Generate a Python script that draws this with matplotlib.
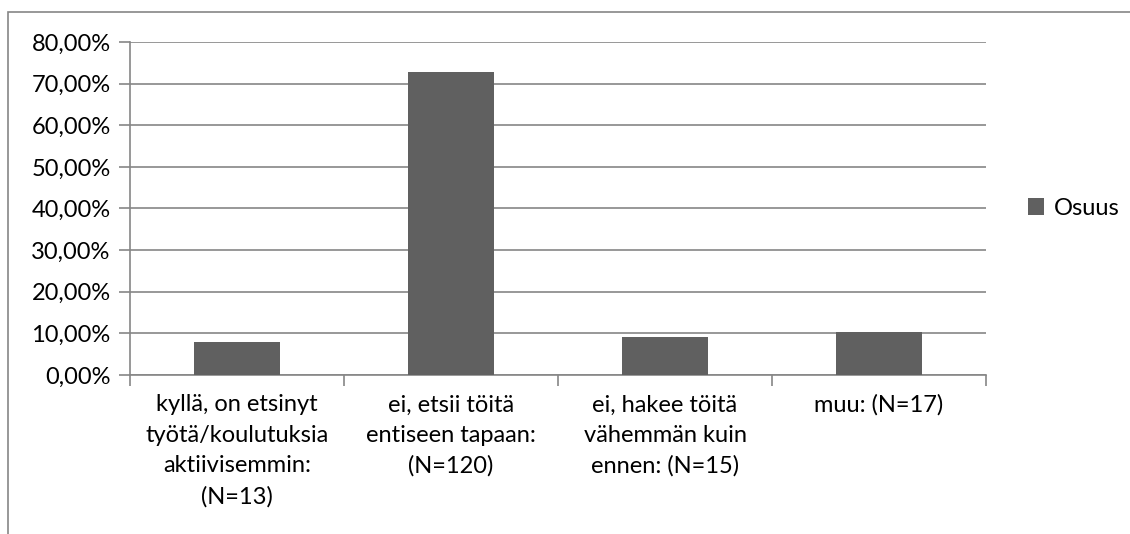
import matplotlib.pyplot as plt
from matplotlib.patches import Rectangle
from matplotlib.ticker import FuncFormatter

plt.rcParams['font.family'] = ['Lato', 'DejaVu Sans']

categories = ['kyllä, on etsinyt\ntyötä/koulutuksia\naktiivisemmin:\n(N=13)',
              'ei, etsii töitä\nentiseen tapaan:\n(N=120)',
              'ei, hakee töitä\nvähemmän kuin\nennen: (N=15)',
              'muu: (N=17)']
osuus = [7.88, 72.73, 9.09, 10.30]
yticks = [0, 10, 20, 30, 40, 50, 60, 70, 80]

grey = '#868686'
fs = 17

fig = plt.figure(figsize=(11.3, 5.34), dpi=100)
fig.patches.append(Rectangle((8 / 1130, -0.1), 1.2, 1 - 12 / 534 + 0.1,
                             transform=fig.transFigure, fill=False,
                             edgecolor=grey, linewidth=1.2))
ax = fig.add_axes([130 / 1130, 1 - 375 / 534, 856 / 1130, 333 / 534])

x = range(len(categories))
ax.bar(x, osuus, width=0.4, color='#606060', label='Osuus', zorder=3)
ax.set_xlim(-0.5, len(categories) - 0.5)
ax.set_ylim(0, 80)
ax.set_yticks(yticks)
ax.yaxis.set_major_formatter(FuncFormatter(lambda v, p: f'{v:.2f}%'.replace('.', ',')))
ax.grid(axis='y', color=grey, linewidth=1.2, zorder=0)

ax.set_xticks([i - 0.5 for i in range(len(categories) + 1)])
ax.set_xticklabels([])
ax.set_xticks(list(x), minor=True)
ax.set_xticklabels(categories, minor=True, fontsize=fs, va='top', linespacing=1.55)
ax.tick_params(axis='x', which='minor', length=0, pad=14)
ax.tick_params(axis='x', which='major', length=8, color=grey, width=1.2)
ax.tick_params(axis='y', length=8, color=grey, width=1.2, labelsize=fs, pad=6)

for s in ['top', 'right']:
    ax.spines[s].set_visible(False)
for s in ['left', 'bottom']:
    ax.spines[s].set_color(grey)
    ax.spines[s].set_linewidth(1.2)

ax.legend(loc='center left', bbox_to_anchor=(1.024, 0.5), frameon=False,
          fontsize=fs, handlelength=0.7, handleheight=0.7, handletextpad=0.4)

fig.savefig('out.png', dpi=100)
